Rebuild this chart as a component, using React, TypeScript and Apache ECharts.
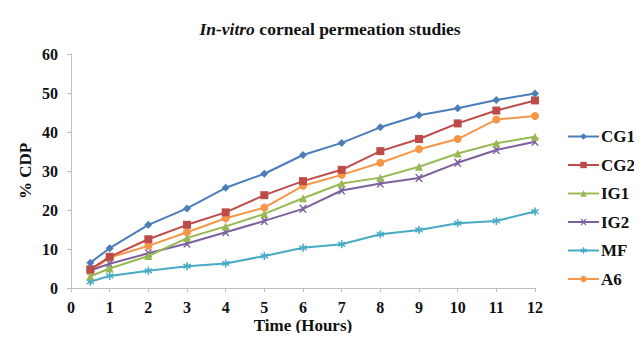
import React, { useEffect, useRef } from "react";
import * as echarts from "echarts";

const times = [0.5, 1, 2, 3, 4, 5, 6, 7, 8, 9, 10, 11, 12];
const seriesNames = ["CG1", "CG2", "IG1", "IG2", "MF", "A6"];
const CG1 = [6.5, 10.2, 16.2, 20.4, 25.7, 29.3, 34.1, 37.2, 41.2, 44.3, 46.1, 48.2, 49.9];
const CG2 = [4.8, 8.0, 12.5, 16.2, 19.4, 23.8, 27.4, 30.3, 35.1, 38.2, 42.2, 45.5, 48.1];
const IG1 = [3.0, 5.0, 8.2, 12.8, 15.8, 19.0, 23.0, 26.8, 28.3, 31.1, 34.5, 37.1, 38.8];
const IG2 = [4.5, 6.2, 8.9, 11.4, 14.3, 17.2, 20.3, 25.0, 26.8, 28.2, 32.1, 35.4, 37.5];
const MF = [1.6, 3.1, 4.4, 5.6, 6.3, 8.2, 10.3, 11.2, 13.8, 14.9, 16.6, 17.2, 19.6];
const A6 = [4.3, 7.8, 10.8, 14.3, 17.9, 20.6, 26.2, 29.0, 32.1, 35.6, 38.2, 43.2, 44.1];
const yTicks = [0, 10, 20, 30, 40, 50, 60];

const allValues = [CG1, CG2, IG1, IG2, MF, A6];
const colors = ["#4a7ebb", "#be4b48", "#98b954", "#7d60a0", "#46aac5", "#f79646"];
const xPath = "path://M0,0 L2,0 L5,3 L8,0 L10,0 L6,5 L10,10 L8,10 L5,7 L2,10 L0,10 L4,5 Z";
const starPath = "path://M4,0 L6,0 L6,3.5 L9,1.5 L10,3 L7,5 L10,7 L9,8.5 L6,6.5 L6,10 L4,10 L4,6.5 L1,8.5 L0,7 L3,5 L0,3 L1,1.5 L4,3.5 Z";
const symbols = ["diamond", "rect", "triangle", xPath, starPath, "circle"];
const sizes = [8, 8, 8, 8, 8, 8];

const FONT = "Liberation Serif";

export default function App() {
  const ref = useRef<HTMLDivElement>(null);
  useEffect(() => {
    if (!ref.current) return;
    const chart = echarts.init(ref.current, undefined, { renderer: "svg" });
    chart.setOption({
      animation: false,
      backgroundColor: "#ffffff",
      textStyle: { fontFamily: FONT },
      title: {
        text: "{i|In-vitro} {b|corneal permeation studies}",
        left: 325,
        top: 15,
        textAlign: "center",
        textStyle: {
          fontFamily: FONT,
          rich: {
            i: { fontFamily: FONT, fontSize: 17.5, fontWeight: "bold", fontStyle: "italic", color: "#111" },
            b: { fontFamily: FONT, fontSize: 17.5, fontWeight: "bold", color: "#111" },
          },
        },
      },
      legend: {
        orient: "vertical",
        left: 567,
        top: 128,
        padding: 0,
        itemWidth: 31,
        itemHeight: 8,
        itemGap: 11.5,
        data: seriesNames,
        textStyle: { fontFamily: FONT, fontSize: 17, fontWeight: "bold", color: "#111", padding: [0, 0, 0, -3] },
      },
      grid: { left: 71, right: 107, top: 54, bottom: 53 },
      xAxis: {
        type: "value",
        min: 0,
        max: 12,
        interval: 1,
        name: "Time (Hours)",
        nameLocation: "middle",
        nameGap: 29,
        nameMoveOverlap: false,
        nameTextStyle: { fontFamily: FONT, fontSize: 17, fontWeight: "bold", color: "#111" },
        axisLine: { lineStyle: { color: "#bfbfbf", width: 1 } },
        axisTick: { show: true, length: 4, lineStyle: { color: "#bfbfbf" } },
        axisLabel: { fontFamily: FONT, fontSize: 16, fontWeight: "bold", color: "#111", margin: 11 },
        splitLine: { show: false },
      },
      yAxis: {
        type: "value",
        min: yTicks[0],
        max: yTicks[yTicks.length - 1],
        interval: 10,
        name: "% CDP",
        nameLocation: "middle",
        nameGap: 37.5,
        nameMoveOverlap: false,
        nameTextStyle: { fontFamily: FONT, fontSize: 17, fontWeight: "bold", color: "#111" },
        axisLine: { show: true, lineStyle: { color: "#bfbfbf", width: 1 } },
        axisTick: { show: true, length: 4, lineStyle: { color: "#bfbfbf" } },
        axisLabel: { fontFamily: FONT, fontSize: 16, fontWeight: "bold", color: "#111", margin: 13 },
        splitLine: { show: false },
      },
      series: seriesNames.map((name, i) => ({
        name,
        type: "line",
        data: times.map((t, j) => [t, allValues[i][j]]),
        symbol: symbols[i],
        symbolSize: sizes[i],
        showSymbol: true,
        lineStyle: { color: colors[i], width: 2 },
        itemStyle: { color: colors[i] },
        z: 10 - i,
      })),
    });
    return () => chart.dispose();
  }, []);
  return <div ref={ref} style={{ width: 642, height: 341, margin: -8 }} />;
}
